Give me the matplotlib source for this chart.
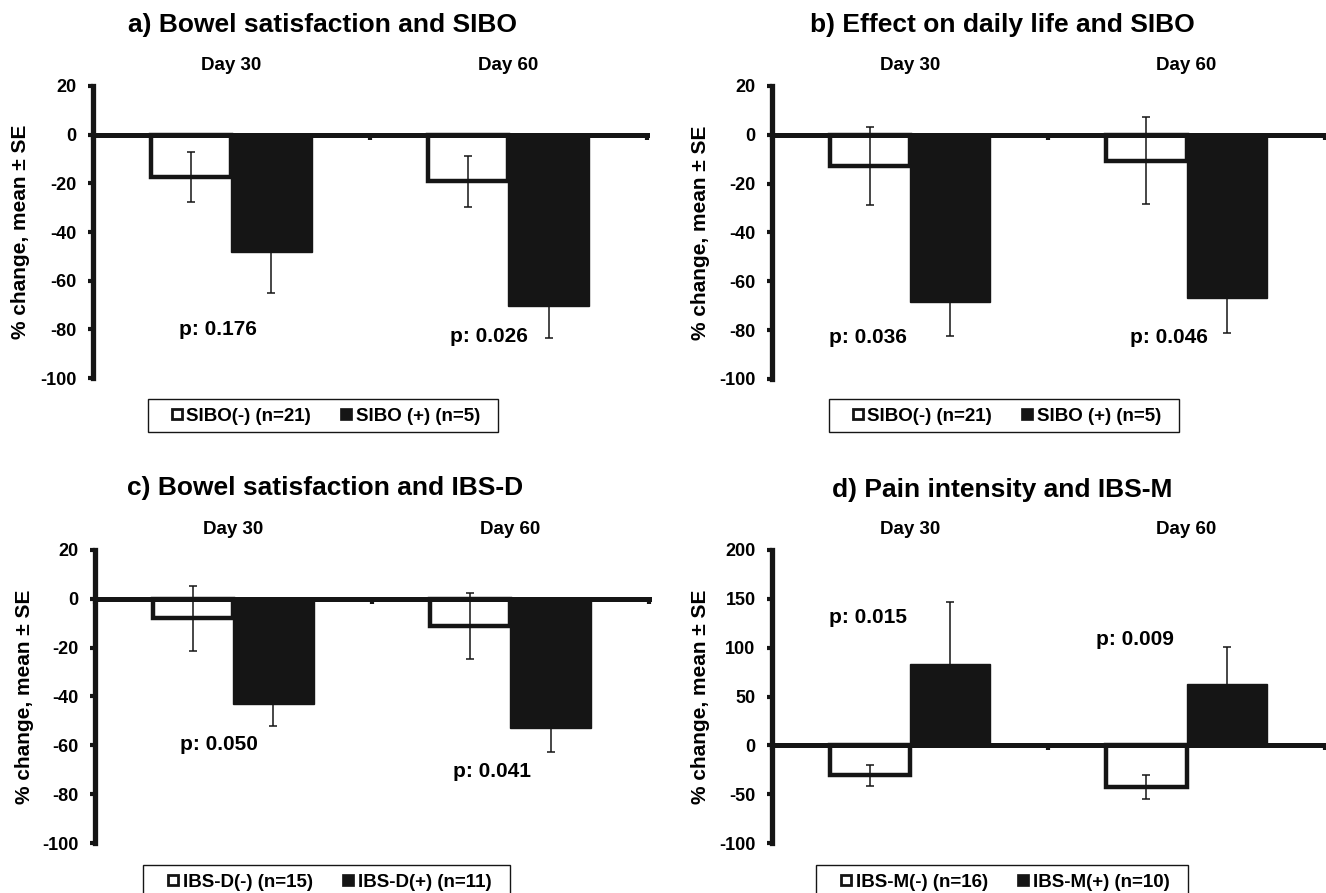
import matplotlib
matplotlib.use("Agg")
import matplotlib.pyplot as plt
from matplotlib.lines import Line2D
from matplotlib.patches import Rectangle
import numpy as np

plt.rcParams['font.family'] = ['Liberation Sans', 'DejaVu Sans']
plt.rcParams['font.weight'] = 'bold'

# ---------------- data ----------------
days = ["Day 30", "Day 60"]

titles = ["a) Bowel satisfaction and SIBO",
          "b) Effect on daily life and SIBO",
          "c) Bowel satisfaction and IBS-D",
          "d) Pain intensity and IBS-M"]

neg_labels = ["SIBO(-) (n=21)", "SIBO(-) (n=21)", "IBS-D(-) (n=15)", "IBS-M(-) (n=16)"]
pos_labels = ["SIBO (+) (n=5)", "SIBO (+) (n=5)", "IBS-D(+) (n=11)", "IBS-M(+) (n=10)"]

# panel a
a_neg_mean = [-17.4, -19.1]
a_neg_se = [10.3, 10.5]
a_pos_mean = [-48.3, -70.4]
a_pos_se = [16.9, 13.0]
a_p = ["p: 0.176", "p: 0.026"]

# panel b
b_neg_mean = [-12.8, -10.6]
b_neg_se = [15.9, 17.8]
b_pos_mean = [-68.4, -66.7]
b_pos_se = [14.0, 14.3]
b_p = ["p: 0.036", "p: 0.046"]

# panel c
c_neg_mean = [-8.0, -11.1]
c_neg_se = [13.3, 13.6]
c_pos_mean = [-43.0, -52.8]
c_pos_se = [9.0, 9.9]
c_p = ["p: 0.050", "p: 0.041"]

# panel d
d_neg_mean = [-30.8, -42.9]
d_neg_se = [10.6, 12.4]
d_pos_mean = [82.9, 62.5]
d_pos_se = [63.5, 37.8]
d_p = ["p: 0.015", "p: 0.009"]

yticks_small = list(range(-100, 21, 20))
yticks_d = list(range(-100, 201, 50))

# ---------------- layout ----------------
W, H = 1326, 893
fig = plt.figure(figsize=(W / 100, H / 100), dpi=100)

def fx(px):
    return px / W

def fy(py):
    return 1 - py / H

# axes boxes in pixels: left, right, top, bottom
boxes = [(92.5, 647, 86, 378), (771.5, 1325, 86, 379),
         (94.5, 649, 550, 843), (771.5, 1325, 550, 843)]
title_pos = [(322, 32), (1002, 32), (325, 495), (1002, 497)]
ylabel_x = [21, 701, 24, 701]
legend_center = [(325, 416), (1006, 416), (329, 882), (1004.5, 882)]
legend_frame = [(148, 399, 498, 432), (829, 399, 1179, 432),
                (143, 865, 510, 899), (816, 865, 1188, 899)]
p_pos = [[(0.452, -82.3), (1.431, -85.2)],
         [(0.348, -85.1), (1.435, -85.2)],
         [(0.449, -61.8), (1.432, -72.8)],
         [(0.348, 124.9), (1.313, 102.7)]]

panels = [
    (a_neg_mean, a_neg_se, a_pos_mean, a_pos_se, a_p, yticks_small),
    (b_neg_mean, b_neg_se, b_pos_mean, b_pos_se, b_p, yticks_small),
    (c_neg_mean, c_neg_se, c_pos_mean, c_pos_se, c_p, yticks_small),
    (d_neg_mean, d_neg_se, d_pos_mean, d_pos_se, d_p, yticks_d),
]

BLACK = '#151515'
bw = 0.29
centers = np.arange(len(days)) + 0.5

for i, (nm, ns, pm, ps, pl, yt) in enumerate(panels):
    l, r, t, b = boxes[i]
    ax = fig.add_axes([fx(l), fy(b), (r - l) / W, (b - t) / H])
    ax.bar(centers - bw / 2, nm, width=bw, color='white', edgecolor=BLACK,
           linewidth=3.2, zorder=2)
    ax.bar(centers + bw / 2, pm, width=bw, color=BLACK, edgecolor=BLACK,
           linewidth=1, zorder=2)
    ax.errorbar(centers - bw / 2, nm, yerr=ns, fmt='none', ecolor=BLACK,
                elinewidth=1.1, capsize=3, capthick=1.1, zorder=4)
    ax.errorbar(centers + bw / 2, pm, yerr=ps, fmt='none', ecolor=BLACK,
                elinewidth=1.1, capsize=3, capthick=1.1, zorder=4)

    ax.set_xlim(0, len(days))
    ax.set_ylim(yt[0], yt[-1])
    ax.set_yticks(yt)
    ax.set_yticklabels([str(v) for v in yt], fontsize=13, fontweight='bold')

    for s in ['top', 'right']:
        ax.spines[s].set_visible(False)
    ax.spines['left'].set_linewidth(3.8)
    ax.spines['left'].set_color(BLACK)
    ax.spines['bottom'].set_position(('data', 0))
    ax.spines['bottom'].set_linewidth(3.6)
    ax.spines['bottom'].set_color(BLACK)
    ax.spines['left'].set_zorder(5)
    ax.spines['bottom'].set_zorder(5)

    ax.set_xticks(np.arange(len(days) + 1))
    ax.set_xticklabels([])
    ax.tick_params(axis='x', which='major', direction='out', length=3.5,
                   width=3, color=BLACK, bottom=True, top=False)
    ax.set_xticks(centers, minor=True)
    ax.set_xticklabels(days, minor=True, fontsize=13.5, fontweight='bold')
    ax.tick_params(axis='x', which='minor', length=0, bottom=False, top=False,
                   labelbottom=False, labeltop=True, pad=9)
    ax.tick_params(axis='y', direction='out', length=3.5, width=3,
                   color=BLACK, pad=8)

    for (px, py), txt in zip(p_pos[i], pl):
        ax.text(px, py, txt, ha='center', va='baseline', fontsize=15,
                fontweight='bold', zorder=6)

    tx, ty = title_pos[i]
    fig.text(fx(tx), fy(ty), titles[i], ha='center', va='baseline',
             fontsize=19, fontweight='bold')
    fig.text(fx(ylabel_x[i]), fy((t + b) / 2), "% change, mean \u00b1 SE",
             rotation=90, ha='center', va='center', fontsize=15,
             fontweight='bold')

    handles = [Line2D([], [], linestyle='none', marker='s', markersize=6.5,
                      markerfacecolor='white', markeredgecolor=BLACK,
                      markeredgewidth=2.0),
               Line2D([], [], linestyle='none', marker='s', markersize=8,
                      markerfacecolor=BLACK, markeredgecolor=BLACK,
                      markeredgewidth=0.5)]
    lx, ly = legend_center[i]
    fig.legend(handles, [neg_labels[i], pos_labels[i]], ncol=2,
               loc='center', bbox_to_anchor=(fx(lx), fy(ly)),
               frameon=False, handlelength=0.7,
               handletextpad=0.15, columnspacing=1.55, borderpad=0.0,
               prop={'size': 13.5, 'weight': 'bold'})
    x0, y0, x1, y1 = legend_frame[i]
    fig.add_artist(Rectangle((fx(x0), fy(y1)), (x1 - x0) / W, (y1 - y0) / H,
                             transform=fig.transFigure, fill=False,
                             edgecolor=BLACK, linewidth=1.0))

fig.savefig("out.png", dpi=100)
